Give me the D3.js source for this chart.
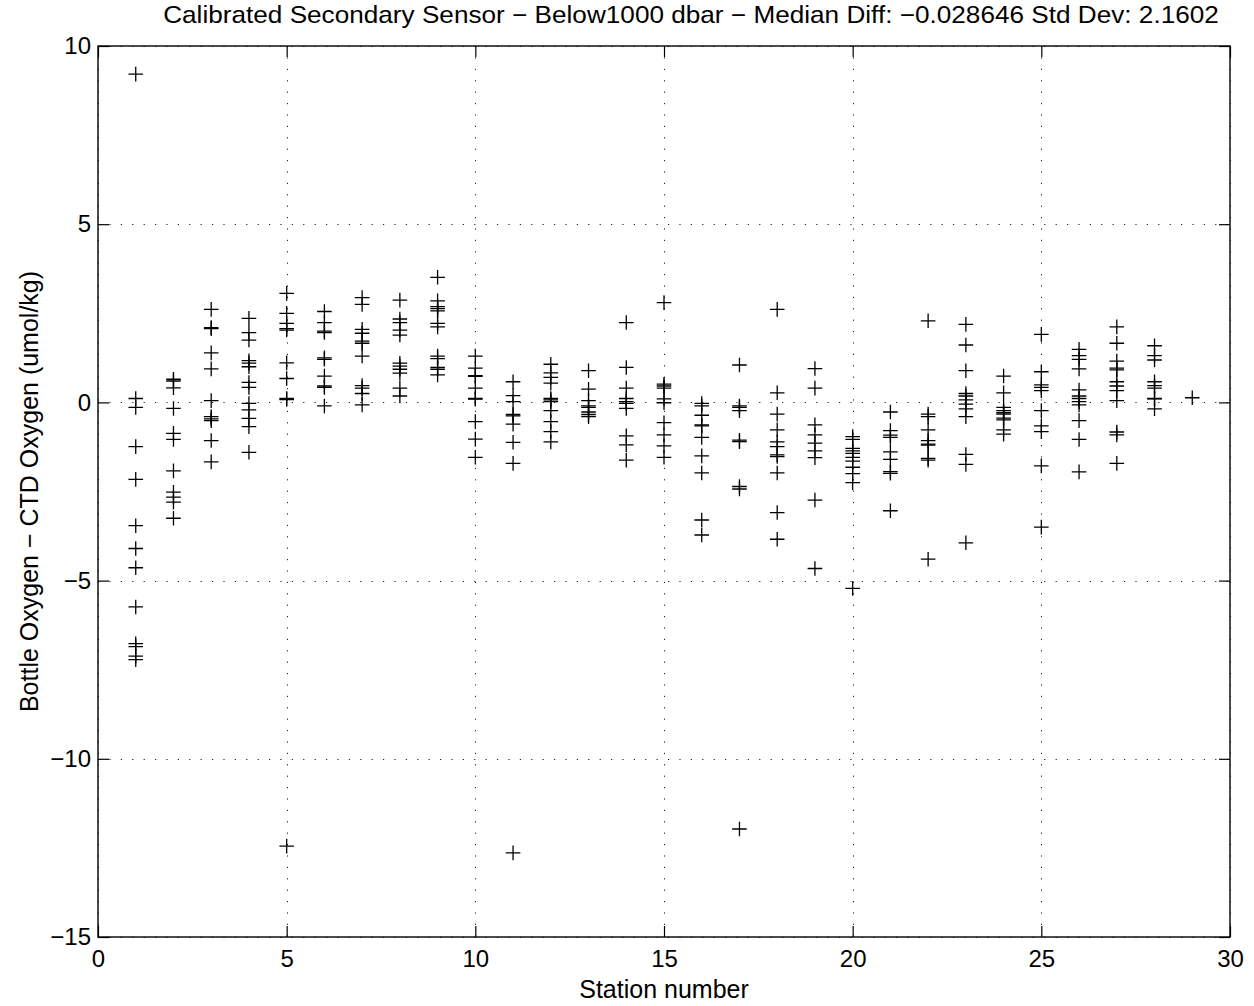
<!DOCTYPE html>
<html>
<head>
<meta charset="utf-8">
<script src="https://cdn.jsdelivr.net/npm/d3@7"></script>
<style>
  html, body { margin: 0; padding: 0; background: #fff; }
  svg { display: block; font-family: "Liberation Sans", Arial, Helvetica, sans-serif; }
</style>
</head>
<body>
<svg id="chart" width="1254" height="1006"></svg>
<script>
const titleText = "Calibrated Secondary Sensor \u2212 Below1000 dbar \u2212 Median Diff: \u22120.028646 Std Dev: 2.1602";
const xLabel = "Station number";
const yLabel = "Bottle Oxygen \u2212 CTD Oxygen (umol/kg)";
const xTicks = [0, 5, 10, 15, 20, 25, 30];
const yTicks = [-15, -10, -5, 0, 5, 10];
const stations = [1,2,3,4,5,6,7,8,9,10,11,12,13,14,15,16,17,18,19,20,21,22,23,24,25,26,27,28,29];
const diffs = [
  [9.21, 0.11, -0.14, -1.24, -2.16, -3.46, -4.1, -4.64, -5.74, -6.77, -6.85, -7.12, -7.22],
  [0.65, 0.6, 0.41, -0.17, -0.87, -1.04, -1.92, -2.52, -2.66, -2.8, -3.25],
  [2.61, 2.1, 2.07, 1.39, 0.94, 0.05, -0.4, -0.46, -0.51, -1.07, -1.67],
  [2.36, 1.96, 1.75, 1.17, 1.1, 1.0, 0.56, 0.42, -0.03, -0.21, -0.45, -0.68, -1.4],
  [3.06, 2.5, 2.22, 2.07, 2.03, 1.11, 0.67, 0.11, 0.08, -12.45],
  [2.55, 2.24, 2.0, 1.96, 1.25, 1.21, 0.74, 0.46, 0.42, -0.1],
  [2.94, 2.75, 2.05, 1.94, 1.72, 1.66, 1.3, 0.47, 0.4, 0.25, -0.07],
  [2.87, 2.34, 2.24, 2.03, 1.89, 1.1, 1.02, 0.93, 0.82, 0.4, 0.18],
  [3.51, 2.85, 2.69, 2.63, 2.57, 2.22, 2.12, 1.3, 1.23, 0.98, 0.93, 0.77],
  [1.3, 0.96, 0.75, 0.73, 0.4, 0.11, 0.09, -0.54, -1.03, -1.54],
  [0.58, 0.19, 0.02, -0.34, -0.38, -0.61, -1.12, -1.71, -12.64],
  [1.07, 0.83, 0.7, 0.54, 0.11, 0.07, 0.02, -0.23, -0.54, -0.82, -1.11],
  [0.89, 0.37, 0.05, -0.1, -0.14, -0.27, -0.34, -0.4],
  [2.24, 0.98, 0.4, 0.11, 0.02, -0.03, -0.17, -0.94, -1.19, -1.62],
  [2.8, 0.51, 0.46, 0.4, 0.1, -0.01, -0.57, -0.91, -1.22, -1.54],
  [-0.03, -0.1, -0.36, -0.63, -0.66, -0.98, -1.5, -1.98, -3.3, -3.72],
  [1.05, -0.1, -0.14, -0.23, -1.06, -1.1, -2.36, -2.43, -11.97],
  [2.61, 0.27, -0.33, -0.77, -1.11, -1.24, -1.47, -1.52, -1.98, -3.09, -3.84],
  [0.95, 0.4, -0.63, -0.91, -1.14, -1.36, -1.55, -2.74, -4.66],
  [-0.96, -1.04, -1.29, -1.36, -1.43, -1.54, -1.65, -1.82, -2.0, -2.25, -5.22],
  [-0.27, -0.79, -0.92, -0.98, -1.39, -1.6, -1.94, -1.99, -3.04],
  [2.29, -0.33, -0.4, -0.77, -1.07, -1.17, -1.2, -1.57, -1.62, -4.4],
  [2.19, 1.61, 0.89, 0.25, 0.18, 0.07, -0.05, -0.18, -0.4, -1.46, -1.74, -3.94],
  [0.74, 0.27, -0.14, -0.23, -0.29, -0.33, -0.44, -0.49, -0.77, -0.89],
  [1.91, 0.86, 0.49, 0.42, 0.33, -0.23, -0.66, -0.82, -1.78, -3.5],
  [1.49, 1.31, 1.21, 0.94, 0.35, 0.18, 0.11, 0.02, -0.07, -0.51, -1.04, -1.95],
  [2.12, 1.66, 1.16, 0.96, 0.91, 0.58, 0.46, 0.33, 0.05, -0.83, -0.91, -1.71],
  [1.59, 1.31, 1.19, 0.58, 0.47, 0.4, 0.11, 0.1, -0.18],
  [0.13]
];

const points = [];
stations.forEach((s, i) => diffs[i].forEach(v => points.push({ s, v })));

const svg = d3.select("#chart");
const mLeft = 98, mRight = 1230, mTop = 46, mBottom = 937;
const x = d3.scaleLinear().domain([0, 30]).range([mLeft, mRight]);
const y = d3.scaleLinear().domain([-15, 10]).range([mBottom, mTop]);
const fsTick = 24;
const fsLabel = 25;
const tickLen = 11;

// grid
const grid = svg.append("g").attr("stroke", "#222").attr("stroke-width", 1)
  .attr("stroke-dasharray", "1.2,10.2");
grid.selectAll("line.gx").data(xTicks).join("line").attr("class", "gx")
  .attr("x1", d => Math.round(x(d)) + 0.5).attr("x2", d => Math.round(x(d)) + 0.5)
  .attr("y1", mTop).attr("y2", mBottom);
grid.selectAll("line.gy").data(yTicks).join("line").attr("class", "gy")
  .attr("x1", mLeft).attr("x2", mRight)
  .attr("y1", d => Math.round(y(d)) + 0.5).attr("y2", d => Math.round(y(d)) + 0.5);

// axes
function styleAxis(g) {
  g.select(".domain").remove();
  g.selectAll(".tick line").attr("stroke", "#000").attr("stroke-width", 1.2);
  g.selectAll(".tick text").attr("fill", "#000").attr("font-size", fsTick)
    .attr("font-family", "'Liberation Sans', Arial, Helvetica, sans-serif");
}
svg.append("g").attr("transform", `translate(0,${mBottom})`)
  .call(d3.axisBottom(x).tickValues(xTicks).tickFormat(d3.format("d")).tickSizeInner(-tickLen).tickSizeOuter(0).tickPadding(13))
  .call(styleAxis);
svg.append("g").attr("transform", `translate(0,${mTop})`)
  .call(d3.axisTop(x).tickValues(xTicks).tickFormat("").tickSizeInner(-tickLen).tickSizeOuter(0))
  .call(styleAxis);
svg.append("g").attr("transform", `translate(${mLeft},0)`)
  .call(d3.axisLeft(y).tickValues(yTicks).tickFormat(d3.format("d")).tickSizeInner(-tickLen).tickSizeOuter(0).tickPadding(7))
  .call(styleAxis);
svg.append("g").attr("transform", `translate(${mRight},0)`)
  .call(d3.axisRight(y).tickValues(yTicks).tickFormat("").tickSizeInner(-tickLen).tickSizeOuter(0))
  .call(styleAxis);

// frame
svg.append("rect").attr("x", mLeft).attr("y", mTop)
  .attr("width", mRight - mLeft).attr("height", mBottom - mTop)
  .attr("fill", "none").attr("stroke", "#000").attr("stroke-width", 1.4);

// markers
const arm = 7.3;
svg.append("g").selectAll("path").data(points).join("path")
  .attr("transform", d => `translate(${x(d.s)},${y(d.v)})`)
  .attr("d", `M${-arm},0H${arm}M0,${-arm}V${arm}`)
  .attr("stroke", "#000").attr("stroke-width", 1.3).attr("fill", "none");

// labels
svg.append("text").attr("transform", "translate(691,23) scale(1.09,1)")
  .attr("text-anchor", "middle").attr("font-size", 24).text(titleText);
svg.append("text").attr("x", (mLeft + mRight) / 2).attr("y", 998)
  .attr("text-anchor", "middle").attr("font-size", fsLabel).text(xLabel);
svg.append("text").attr("transform", `translate(38,${(mTop + mBottom) / 2}) rotate(-90)`)
  .attr("text-anchor", "middle").attr("font-size", fsLabel).text(yLabel);
</script>
</body>
</html>
